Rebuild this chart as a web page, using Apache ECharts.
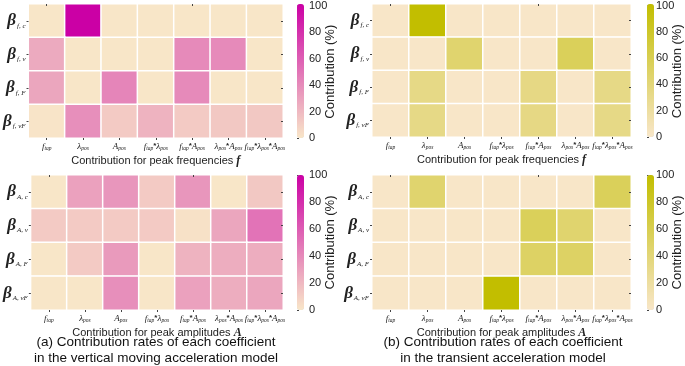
<!DOCTYPE html>
<html>
<head>
<meta charset="utf-8">
<script src="https://cdn.jsdelivr.net/npm/echarts@6/dist/echarts.min.js"></script>
<style>
  html, body { margin: 0; padding: 0; background: #fff; }
  #chart { width: 685px; height: 366px; }
</style>
</head>
<body>
<div id="chart"></div>
<script>
// terms on the x axis, coefficients on the y axis
const xTerms = ["f_tap", "λ_pos", "A_pos", "f_tap*λ_pos", "f_tap*A_pos", "λ_pos*A_pos", "f_tap*λ_pos*A_pos"];
const fCoefs = ["f, c", "f, v", "f, F", "f, vF"];
const aCoefs = ["A, c", "A, v", "A, F", "A, vF"];

// contribution (%) per row (coefficient) and column (term)
const fVertical = [
  [0, 100, 0, 0, 0, 0, 0],
  [26, 0, 0, 0, 40, 40, 0],
  [28, 0, 42, 0, 40, 0, 0],
  [1, 38, 12, 22, 12, 13, 13],
];
const fTransient = [
  [0, 100, 0, 0, 0, 0, 0],
  [0, 0, 45, 0, 0, 55, 0],
  [0, 33, 0, 0, 34, 0, 33],
  [0, 33, 0, 0, 34, 0, 33],
];
const aVertical = [
  [0, 30, 35, 12, 35, 0, 13],
  [12, 12, 12, 12, 2, 28, 50],
  [0, 12, 33, 0, 22, 25, 25],
  [0, 0, 38, 0, 30, 25, 28],
];
const aTransient = [
  [0, 45, 0, 0, 0, 0, 55],
  [0, 0, 0, 0, 55, 45, 0],
  [0, 0, 0, 0, 50, 50, 0],
  [0, 0, 0, 100, 0, 0, 0],
];

const CREAM = "#F8E6C8";
const PINK = "#CB00A5";
const OLIVE = "#C2BE00";
const serif = "Liberation Serif";
const sans = "Liberation Sans";

const panels = [
  { data: fVertical, coefs: fCoefs, color: PINK, left: 22, top: 4, width: 261, height: 134, cbLeft: 297, name: "Contribution for peak frequencies ", sym: "f" },
  { data: fTransient, coefs: fCoefs, color: OLIVE, left: 372, top: 4, width: 259, height: 133, cbLeft: 647, name: "Contribution for peak frequencies ", sym: "f" },
  { data: aVertical, coefs: aCoefs, color: PINK, left: 22, top: 175, width: 261, height: 135, cbLeft: 297, name: "Contribution for peak amplitudes ", sym: "A" },
  { data: aTransient, coefs: aCoefs, color: OLIVE, left: 372, top: 175, width: 259, height: 135, cbLeft: 647, name: "Contribution for peak amplitudes ", sym: "A" },
];

function termLabel(t) {
  return t.split("*").map((p) => {
    const [m, s] = p.split("_");
    return "{m|" + m + "}{s|" + s + "}";
  }).join("{st|*}");
}

const tickStyle = { show: true, length: 2, inside: true, alignWithLabel: true, lineStyle: { color: "#444", width: 1 } };

const grid = [], xAxis = [], yAxis = [], series = [], visualMap = [];
panels.forEach((p, i) => {
  const g = grid.length;
  grid.push({ left: p.left, top: p.top, width: p.width, height: p.height });
  const xi = xAxis.length, yi = yAxis.length;
  xAxis.push({
    type: "category", gridIndex: g, data: xTerms, position: "bottom", z: 10,
    axisLine: { show: false },
    axisTick: Object.assign({}, tickStyle, { inside: false }),
    axisLabel: {
      interval: 0, margin: 4, formatter: termLabel, hideOverlap: false,
      rich: {
        m: { fontFamily: serif, fontStyle: "italic", fontSize: 9, color: "#222" },
        s: { fontFamily: serif, fontStyle: "italic", fontSize: 5.5, color: "#222", verticalAlign: "bottom", padding: [4, 0, 0, 0] },
        st: { fontFamily: sans, fontWeight: "bold", fontSize: 8, color: "#222", verticalAlign: "top" },
      },
    },
    name: "{t|" + p.name + "}{v|" + p.sym + "}",
    nameLocation: "middle", nameGap: 17, nameMoveOverlap: false,
    nameTextStyle: {
      rich: {
        t: { fontFamily: sans, fontSize: 11, color: "#222" },
        v: { fontFamily: serif, fontSize: 12, fontStyle: "italic", fontWeight: "bold", color: "#222" },
      },
    },
  });
  xAxis.push({
    type: "category", gridIndex: g, data: xTerms, position: "top", z: 10,
    axisLine: { show: false }, axisTick: tickStyle, axisLabel: { show: false },
  });
  yAxis.push({
    type: "category", gridIndex: g, data: p.coefs, inverse: true, position: "left", z: 10,
    axisLine: { show: false },
    axisTick: Object.assign({}, tickStyle, { inside: false }),
    axisLabel: {
      interval: 0, margin: 3,
      formatter: (v) => "{b|β}{s|" + v + "}",
      rich: {
        b: { fontFamily: serif, fontStyle: "italic", fontWeight: "bold", fontSize: 17, color: "#222" },
        s: { fontFamily: serif, fontStyle: "italic", fontSize: 7, color: "#222", verticalAlign: "bottom", padding: [7, 0, 0, 1] },
      },
    },
  });
  yAxis.push({
    type: "category", gridIndex: g, data: p.coefs, inverse: true, position: "right", z: 10,
    axisLine: { show: false }, axisTick: tickStyle, axisLabel: { show: false },
  });
  const cells = [];
  p.data.forEach((row, r) => row.forEach((v, c) => cells.push([c, r, v])));
  series.push({
    type: "heatmap", xAxisIndex: xi, yAxisIndex: yi, data: cells,
    itemStyle: { borderColor: "#fff", borderWidth: 1.5 },
    emphasis: { disabled: true },
  });
  visualMap.push({
    type: "continuous", min: 0, max: 100, seriesIndex: i, calculable: false,
    orient: "vertical", left: p.cbLeft, top: p.top, itemWidth: 7, itemHeight: p.height,
    padding: 0, text: null, showLabel: false, realtime: false, hoverLink: false,
    inRange: { color: [CREAM, p.color] },
  });
});

// colour bar tick labels
panels.forEach((p) => {
  const g = grid.length;
  grid.push({ left: p.cbLeft, top: p.top, width: 7, height: p.height });
  xAxis.push({ type: "value", gridIndex: g, show: false });
  yAxis.push({
    type: "value", gridIndex: g, position: "right", min: 0, max: 100, interval: 20,
    axisLine: { show: false }, splitLine: { show: false },
    axisTick: { show: true, length: 2, lineStyle: { color: "#444" } },
    axisLabel: { fontFamily: sans, fontSize: 11, color: "#222", margin: 5 },
    name: "Contribution (%)", nameLocation: "middle", nameRotate: 90, nameGap: 20,
    nameMoveOverlap: false,
    nameTextStyle: { fontFamily: sans, fontSize: 13, color: "#222" },
  });
});

const caption = (text, x, y) => ({
  type: "text", x, y,
  style: { text, fontFamily: sans, fontSize: 13.5, fill: "#111", align: "center", verticalAlign: "middle" },
});

const chart = echarts.init(document.getElementById("chart"), null, { renderer: "canvas" });
chart.setOption({
  animation: false,
  grid, xAxis, yAxis, series, visualMap,
  graphic: [
    caption("(a) Contribution rates of each coefficient", 156, 342),
    caption("in the vertical moving acceleration model", 156, 358),
    caption("(b) Contribution rates of each coefficient", 503, 342),
    caption("in the transient acceleration model", 503, 358),
  ],
});
</script>
</body>
</html>
